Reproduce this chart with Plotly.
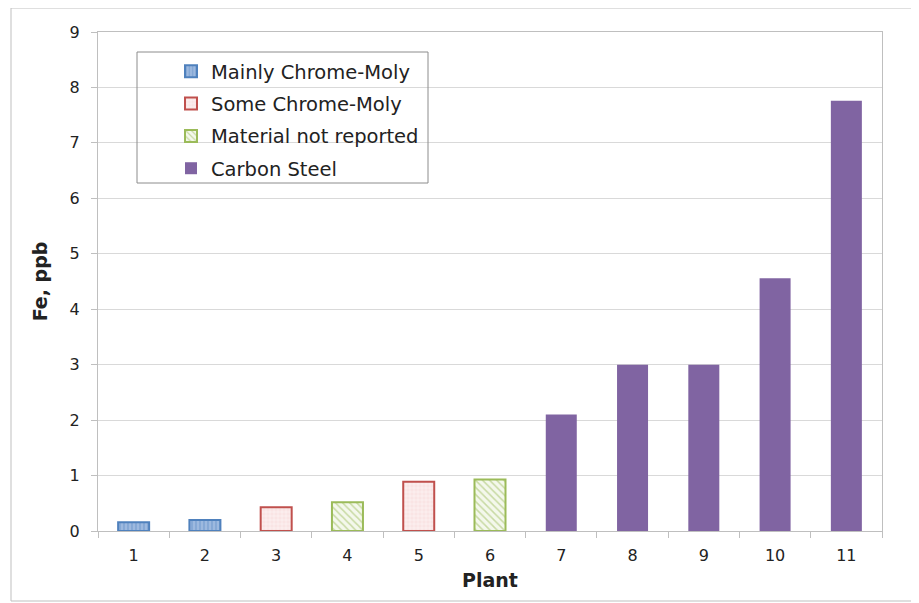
import plotly.graph_objects as go

plants = ["1", "2", "3", "4", "5", "6", "7", "8", "9", "10", "11"]

mainly_x = ["1", "2"]
mainly_y = [0.16, 0.20]
some_x = ["3", "5"]
some_y = [0.43, 0.89]
notrep_x = ["4", "6"]
notrep_y = [0.52, 0.93]
carbon_x = ["7", "8", "9", "10", "11"]
carbon_y = [2.1, 3.0, 3.0, 4.56, 7.76]

FONT = "DejaVu Sans"

fig = go.Figure()
fig.add_trace(go.Bar(
    x=mainly_x, y=mainly_y, name="Mainly Chrome-Moly", legendgroup="a",
    marker=dict(color="#9DB9DF", line=dict(color="#4F81BD", width=2),
                pattern=dict(shape="|", fgcolor="#4F81BD", size=4, solidity=0.3, fillmode="overlay")),
))
fig.add_trace(go.Bar(
    x=some_x, y=some_y, name="Some Chrome-Moly", legendgroup="b",
    marker=dict(color="#FBEDED", line=dict(color="#C0504D", width=2),
                pattern=dict(shape="+", fgcolor="#F0C4C3", size=4, solidity=0.2, fillmode="overlay")),
))
fig.add_trace(go.Bar(
    x=notrep_x, y=notrep_y, name="Material not reported", legendgroup="c",
    marker=dict(color="#F4F8EC", line=dict(color="#9BBB59", width=2),
                pattern=dict(shape="\\", fgcolor="#9BBB59", size=5, solidity=0.3, fillmode="overlay")),
))
fig.add_trace(go.Bar(
    x=carbon_x, y=carbon_y, name="Carbon Steel", legendgroup="d",
    marker=dict(color="#8064A2", line=dict(color="#8064A2", width=0)),
))

PL, PT = 90, 24  # figure-space plot origin (page is offset by 8px body margin)
fig.update_layout(
    width=911, height=595,
    margin=dict(l=PL, r=37, t=PT, b=72),
    paper_bgcolor="white", plot_bgcolor="white",
    barmode="overlay", bargap=0.565,
    font=dict(family=FONT, color="#222222", size=16),
    showlegend=True,
    legend=dict(x=(171 - 98) / 784, y=(531 - 52) / 499, xanchor="left", yanchor="top",
                bgcolor="rgba(0,0,0,0)", borderwidth=0,
                font=dict(family=FONT, size=19.5, color="#222222"),
                traceorder="grouped", tracegroupgap=4, itemwidth=30),
    xaxis=dict(
        type="category", categoryorder="array", categoryarray=plants,
        tickson="boundaries", ticks="outside", ticklen=6, tickcolor="#BFBFBF",
        showline=True, linecolor="#BFBFBF", linewidth=1, mirror=True,
        showgrid=False, tickfont=dict(size=16), ticklabelstandoff=10,
        title=dict(text="<b>Plant</b>", font=dict(size=19), standoff=9),
    ),
    yaxis=dict(
        range=[0, 9], dtick=1, ticks="outside", ticklen=6, tickcolor="#BFBFBF",
        showline=True, linecolor="#BFBFBF", linewidth=1, mirror=True,
        showgrid=True, gridcolor="#D9D9D9", zeroline=False,
        tickfont=dict(size=16), ticklabelstandoff=8,
        title=dict(text="<b>Fe, ppb</b>", font=dict(size=19), standoff=16),
    ),
    shapes=[
        dict(type="rect", xref="paper", yref="paper",
             x0=(137 - 98) / 784, x1=(428 - 98) / 784,
             y0=(531 - 183) / 499, y1=(531 - 52) / 499,
             line=dict(color="#8C8C8C", width=1), fillcolor="rgba(0,0,0,0)", layer="above"),
        dict(type="rect", xref="paper", yref="paper",
             x0=(11 - 98) / 784, x1=1.2,
             y0=(531 - 601) / 499, y1=(531 - 8) / 499,
             line=dict(color="#BFBFBF", width=1), fillcolor="rgba(0,0,0,0)", layer="below"),
    ],
)

fig.write_html("out.html")
